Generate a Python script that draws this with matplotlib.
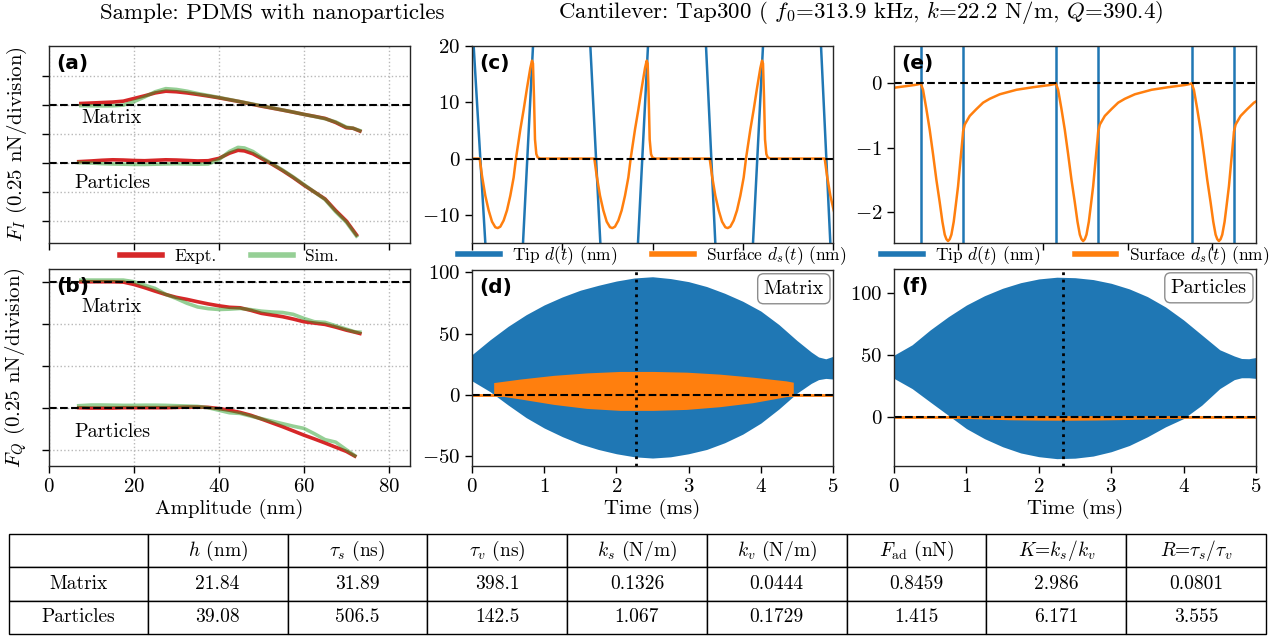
import numpy as np
import matplotlib
matplotlib.use('Agg')
import matplotlib.pyplot as plt
from matplotlib.lines import Line2D

plt.rcParams.update({
    'font.family': 'serif',
    'font.serif': ['cmr10'],
    'mathtext.fontset': 'cm',
    'axes.formatter.use_mathtext': True,
    'font.size': 15,
    'axes.linewidth': 1.0,
})

# ---------------- data ----------------
# (a) F_I vs amplitude (nN, relative to each baseline)
a_m_x = [7.5, 10, 12.5, 15, 17.5, 20, 22.5, 25, 27.5, 30, 32.5, 35, 37.5, 40, 42.5, 45,
         47.5, 50, 52.5, 55, 57.5, 60, 62.5, 65, 67.5, 70, 71.6, 73.2]
a_m_expt = [0.014, 0.018, 0.022, 0.026, 0.034, 0.057, 0.08, 0.105, 0.12, 0.115, 0.105, 0.092,
            0.078, 0.063, 0.046, 0.029, 0.01, -0.009, -0.026, -0.043, -0.061, -0.08, -0.097,
            -0.115, -0.15, -0.195, -0.2, -0.224]
a_m_sim = [-0.005, -0.006, -0.007, -0.006, 0.0, 0.03, 0.07, 0.115, 0.142, 0.135, 0.12, 0.1,
           0.083, 0.066, 0.048, 0.03, 0.012, -0.006, -0.024, -0.042, -0.06, -0.08, -0.098,
           -0.118, -0.145, -0.19, -0.2, -0.22]
a_p_x = [7, 10, 12.5, 15, 17.5, 20, 22.5, 25, 27.5, 30, 32.5, 35, 37.5, 40, 42.5, 44.5, 46,
         48, 50, 52.5, 55, 57.5, 60, 62.5, 65, 67.5, 70, 72.4]
a_p_expt = [0.012, 0.018, 0.024, 0.028, 0.026, 0.022, 0.02, 0.024, 0.028, 0.026, 0.022, 0.018,
            0.02, 0.04, 0.085, 0.11, 0.105, 0.08, 0.04, -0.01, -0.065, -0.125, -0.19, -0.25,
            -0.31, -0.41, -0.5, -0.62]
a_p_sim = [0.004, 0.0, -0.005, -0.008, -0.01, -0.012, -0.012, -0.01, -0.008, -0.006, -0.008,
           -0.01, -0.008, 0.03, 0.1, 0.135, 0.13, 0.1, 0.05, -0.005, -0.06, -0.12, -0.185,
           -0.25, -0.315, -0.42, -0.51, -0.63]

# (b) F_Q vs amplitude
b_m_x = [7.5, 10, 12.5, 15, 17.5, 20, 22.5, 25, 27.5, 30, 32.5, 35, 37.5, 40, 42.5, 45,
         47.5, 50, 52.5, 55, 57.5, 60, 62.5, 65, 67.5, 70, 72, 73.2]
b_m_expt = [0, 0, 0, 0, -0.002, -0.016, -0.035, -0.056, -0.076, -0.093, -0.105, -0.119,
            -0.132, -0.143, -0.152, -0.155, -0.17, -0.188, -0.198, -0.208, -0.222, -0.238,
            -0.246, -0.254, -0.27, -0.288, -0.3, -0.308]
b_m_sim = [0.01, 0.01, 0.01, 0.01, 0.01, 0.0, -0.02, -0.04, -0.075, -0.1, -0.128, -0.15,
           -0.16, -0.165, -0.163, -0.159, -0.166, -0.175, -0.18, -0.183, -0.194, -0.218,
           -0.238, -0.242, -0.262, -0.282, -0.298, -0.30]
b_p_x = [7, 10, 12.5, 15, 17.5, 20, 22.5, 25, 27.5, 30, 32.5, 35, 37.5, 40, 42.5, 45, 47.5,
         50, 52.5, 55, 57.5, 60, 62.5, 65, 67.5, 70, 72]
b_p_expt = [0, -0.002, -0.002, -0.002, 0, 0, 0, 0, 0, 0.002, 0.004, 0.004, 0.002, -0.005,
            -0.015, -0.028, -0.045, -0.067, -0.09, -0.113, -0.138, -0.163, -0.186, -0.21,
            -0.235, -0.26, -0.288]
b_p_sim = [0.012, 0.016, 0.016, 0.015, 0.014, 0.014, 0.015, 0.015, 0.014, 0.012, 0.01, 0.008,
           0.0, -0.015, -0.03, -0.034, -0.05, -0.065, -0.08, -0.095, -0.11, -0.123, -0.155,
           -0.19, -0.205, -0.25, -0.285]

# (c) matrix, zoom in time (us): tip passes and surface cycle
c_tip_t = [0.046, 0.369, np.nan, 1.413, 1.690, np.nan, 3.278, 3.555, np.nan, 4.598, 4.875,
           np.nan, 6.482, 6.740, np.nan, 7.784, 8.061, np.nan, 9.668, 9.926]
c_tip_y = [20, -15, np.nan, -15, 20, np.nan, 20, -15, np.nan, -15, 20, np.nan, 20, -15,
           np.nan, -15, 20, np.nan, 20, -15]
c_contact = [0.212, 3.389, 6.584, 9.770]
c_cycle_dt = [0, 0.065, 0.157, 0.249, 0.342, 0.434, 0.499, 0.572, 0.665, 0.757, 0.849,
              0.942, 1.006, 1.127, 1.219, 1.311, 1.404, 1.450, 1.477, 1.505, 1.533, 1.570,
              1.607, 1.681]
c_cycle_y = [0, -3.06, -6.6, -9.2, -11.2, -12.2, -12.35, -12.1, -11.0, -9.2, -6.6, -3.35, 0,
             5.2, 8.7, 12.5, 16.1, 17.4, 16.9, 11.0, 3.4, 0.8, 0.2, 0]

# (e) particles, zoom in time (us)
e_tip_t = [1.120, 2.119, 4.307, 5.306, 7.510, 8.510]
e_contact = [-2.07, 1.120, 4.307, 7.510]
e_cycle_dt = [0, 0.055, 0.134, 0.212, 0.291, 0.370, 0.449, 0.512, 0.567, 0.606, 0.645, 0.685,
              0.724, 0.779, 0.826, 0.881, 0.937, 0.984, 1.000, 1.039, 1.157, 1.314, 1.472,
              1.629, 1.865, 2.259, 2.652, 3.046, 3.150]
e_cycle_y = [0, -0.10, -0.40, -0.72, -1.10, -1.50, -1.85, -2.15, -2.35, -2.42, -2.45, -2.42,
             -2.35, -2.15, -1.90, -1.60, -1.20, -0.87, -0.75, -0.64, -0.506, -0.40, -0.30,
             -0.24, -0.17, -0.10, -0.06, -0.026, -0.012]

# (d) matrix, full ramp (ms): envelope of the tip oscillation
d_t = [0, 0.25, 0.5, 0.75, 1.0, 1.25, 1.5, 1.75, 2.0, 2.25, 2.5, 2.75, 3.0, 3.25, 3.5, 3.75,
       4.0, 4.25, 4.5, 4.7, 4.8, 4.9, 5.0]
d_upper = [32.9, 45, 56, 65.5, 73.5, 80, 85.5, 89.5, 93, 95.5, 96.5, 95, 92.5, 88.5, 83,
           76.5, 68.5, 57.5, 44.5, 35, 31, 29.5, 31.5]
d_lower = [11.5, 2.7, -8.2, -18.5, -27, -34, -40, -44.5, -48, -50.5, -51.5, -50.5, -48,
           -44.5, -39, -32, -23, -11.5, 1.4, 9.5, 12.5, 13.5, 13]
d_s_t = [0.30, 0.67, 1.13, 1.59, 2.05, 2.51, 2.97, 3.43, 3.89, 4.35, 4.45]
d_s_upper = [10.1, 13, 16, 18, 19.2, 19.2, 18.6, 17, 14.5, 11.5, 10.4]
d_s_lower = [0, -3.3, -7.7, -11, -12.6, -12.6, -11.8, -9.6, -6.3, -1.4, 0]
d_marker = 2.27

# (f) particles, full ramp (ms)
f_t = [0, 0.25, 0.5, 0.75, 1.0, 1.25, 1.5, 1.75, 2.0, 2.25, 2.5, 2.75, 3.0, 3.25, 3.5, 3.75,
       4.0, 4.25, 4.5, 4.7, 4.8, 4.9, 5.0]
f_upper = [49.7, 58, 70, 80.6, 90, 97.5, 103.5, 108, 111, 112.4, 112, 110.5, 107.5, 103,
           96.8, 88.5, 78, 66, 54, 49, 47, 46.8, 47.8]
f_lower = [31, 22.8, 12, 1.3, -9.4, -17.5, -24, -29, -32, -33.6, -33.2, -31.5, -28, -23,
           -16, -8, -1.3, 9.4, 22.8, 30, 31.5, 31.5, 31]
f_s_t = [0.65, 0.8, 1.2, 1.6, 2.0, 2.4, 2.8, 3.2, 3.6, 4.0, 4.1]
f_s_upper = [0, 1.0, 0.3, -0.3, -0.5, -0.5, -0.4, -0.2, 0.3, 1.0, 0]
f_s_lower = [0, -0.8, -1.6, -2.3, -2.6, -2.7, -2.5, -2.1, -1.5, -0.8, 0]
f_marker = 2.34

# table
col_labels = ['', r'$h$ (nm)', r'$\tau_s$ (ns)', r'$\tau_v$ (ns)', r'$k_s$ (N/m)',
              r'$k_v$ (N/m)', r'$F_{\mathrm{ad}}$ (nN)', r'$K$=$k_s/k_v$', r'$R$=$\tau_s/\tau_v$']
row_names = ['Matrix', 'Particles']
matrix_vals = ['21.84', '31.89', '398.1', '0.1326', '0.0444', '0.8459', '2.986', '0.0801']
particle_vals = ['39.08', '506.5', '142.5', '1.067', '0.1729', '1.415', '6.171', '3.555']

# ---------------- figure ----------------
W, H = 1276, 639
fig = plt.figure(figsize=(W / 100, H / 100), dpi=100)


def rect(l, t, r, b):
    return [l / W, 1 - b / H, (r - l) / W, (b - t) / H]


RED = '#d62728'
GREEN = '#2ca02c'
BLUE = '#1f77b4'
ORANGE = '#ff7f0e'


def style(ax):
    ax.tick_params(direction='out', length=5, width=1, labelsize=15)
    for s in ax.spines.values():
        s.set_color('0.15')


def panel_label(ax, s):
    ax.annotate(s, xy=(0, 1), xycoords='axes fraction', xytext=(5, -6),
                textcoords='offset points', ha='left', va='top', fontsize=14.5,
                fontweight='bold', family='DejaVu Sans')


# (a)
ax_a = fig.add_axes(rect(49, 46, 410, 243))
m_off_a = 0.5
ax_a.plot(a_m_x, np.array(a_m_expt) + m_off_a, color=RED, lw=2.6)
ax_a.plot(a_m_x, np.array(a_m_sim) + m_off_a, color=GREEN, alpha=0.5, lw=2.6)
ax_a.plot(a_p_x, a_p_expt, color=RED, lw=2.6)
ax_a.plot(a_p_x, a_p_sim, color=GREEN, alpha=0.5, lw=2.6)
ax_a.axhline(m_off_a, color='k', ls='--', lw=1.5)
ax_a.axhline(0, color='k', ls='--', lw=1.5)
ax_a.set_xlim(0, 85)
ax_a.set_ylim(-0.69, 1.01)
ax_a.set_xticks([0, 20, 40, 60, 80])
ax_a.set_yticks([-0.5, -0.25, 0, 0.25, 0.5, 0.75])
ax_a.set_xticklabels([])
ax_a.set_yticklabels([])
ax_a.grid(True, ls=':', color='0.72', lw=1)
ax_a.set_axisbelow(True)
ax_a.text(14.8, 0.388, 'Matrix', ha='center', va='center', fontsize=14.5)
ax_a.text(15.0, -0.172, 'Particles', ha='center', va='center', fontsize=14.5)
ax_a.set_ylabel(r'$F_I$ (0.25 nN/division)', fontsize=15)
ax_a.yaxis.set_label_coords(-0.055, 0.5)
style(ax_a)
panel_label(ax_a, '(a)')
ax_a.legend([Line2D([], [], color=RED, lw=4), Line2D([], [], color=GREEN, alpha=0.5, lw=4)],
            ['Expt.', 'Sim.'], loc='center', bbox_to_anchor=(0.5, -0.066), ncol=2,
            frameon=False, fontsize=12.5, handlelength=2.4, columnspacing=2.0,
            handletextpad=0.7, borderaxespad=0)

# (b)
ax_b = fig.add_axes(rect(49, 269, 410, 466))
m_off_b = 0.75
ax_b.plot(b_m_x, np.array(b_m_expt) + m_off_b, color=RED, lw=2.6)
ax_b.plot(b_m_x, np.array(b_m_sim) + m_off_b, color=GREEN, alpha=0.5, lw=2.6)
ax_b.plot(b_p_x, b_p_expt, color=RED, lw=2.6)
ax_b.plot(b_p_x, b_p_sim, color=GREEN, alpha=0.5, lw=2.6)
ax_b.axhline(m_off_b, color='k', ls='--', lw=1.5)
ax_b.axhline(0, color='k', ls='--', lw=1.5)
ax_b.set_xlim(0, 85)
ax_b.set_ylim(-0.347, 0.826)
ax_b.set_xticks([0, 20, 40, 60, 80])
ax_b.set_yticks([-0.25, 0, 0.25, 0.5, 0.75])
ax_b.set_yticklabels([])
ax_b.grid(True, ls=':', color='0.72', lw=1)
ax_b.set_axisbelow(True)
ax_b.text(14.8, 0.599, 'Matrix', ha='center', va='center', fontsize=14.5)
ax_b.text(15.0, -0.145, 'Particles', ha='center', va='center', fontsize=14.5)
ax_b.set_ylabel(r'$F_Q$ (0.25 nN/division)', fontsize=15)
ax_b.yaxis.set_label_coords(-0.055, 0.5)
ax_b.set_xlabel('Amplitude (nm)', fontsize=15, labelpad=2)
style(ax_b)
panel_label(ax_b, '(b)')

# (c)
ax_c = fig.add_axes(rect(472, 46, 833, 243))
ax_c.plot(c_tip_t, c_tip_y, color=BLUE, lw=1.8)
cs_t = [0.0]
cs_y = [0.0]
for tc in c_contact:
    cs_t.extend([tc + dt for dt in c_cycle_dt])
    cs_y.extend(c_cycle_y)
ax_c.plot(cs_t, cs_y, color=ORANGE, lw=1.8)
ax_c.axhline(0, color='k', ls='--', lw=1.5)
ax_c.set_xlim(0, 10)
ax_c.set_ylim(-15, 20)
ax_c.set_xticks([0, 2.5, 5, 7.5, 10])
ax_c.set_xticklabels([])
ax_c.set_yticks([-10, 0, 10, 20])
style(ax_c)
panel_label(ax_c, '(c)')
leg_handles = [Line2D([], [], color=BLUE, lw=4), Line2D([], [], color=ORANGE, lw=4)]
leg_labels = [r'Tip $d(t)$ (nm)', r'Surface $d_s(t)$ (nm)']
ax_c.legend(leg_handles, leg_labels, loc='center', bbox_to_anchor=(0.5, -0.066), ncol=2,
            frameon=False, fontsize=12.5, handlelength=2.4, columnspacing=2.0,
            handletextpad=0.7, borderaxespad=0)

# (d)
ax_d = fig.add_axes(rect(472, 270, 833, 466))
ax_d.fill_between(d_t, d_lower, d_upper, color=BLUE, lw=0)
ax_d.axhline(0, color=ORANGE, lw=2)
ax_d.fill_between(d_s_t, d_s_lower, d_s_upper, color=ORANGE, lw=0)
ax_d.axhline(0, color='k', ls='--', lw=1.5)
ax_d.axvline(d_marker, color='k', ls=':', lw=2)
ax_d.set_xlim(0, 5)
ax_d.set_ylim(-58, 102)
ax_d.set_yticks([-50, 0, 50, 100])
ax_d.set_xticks([0, 1, 2, 3, 4, 5])
ax_d.set_xlabel('Time (ms)', fontsize=15, labelpad=2)
ax_d.text(0.975, 0.95, 'Matrix', transform=ax_d.transAxes, ha='right', va='top', fontsize=14.5,
          bbox=dict(boxstyle='round,pad=0.3', fc='white', ec='0.55', lw=1))
style(ax_d)
panel_label(ax_d, '(d)')

# (e)
ax_e = fig.add_axes(rect(894, 46, 1256, 243))
for tt in e_tip_t:
    ax_e.axvline(tt, color=BLUE, lw=1.8)
es_t = []
es_y = []
for tc in e_contact:
    es_t.extend([tc + dt for dt in e_cycle_dt])
    es_y.extend(e_cycle_y)
ax_e.plot(es_t, es_y, color=ORANGE, lw=1.8)
ax_e.axhline(0, color='k', ls='--', lw=1.5)
ax_e.set_xlim(0.49, 9.03)
ax_e.set_ylim(-2.48, 0.58)
ax_e.set_xticks([2, 4, 6, 8])
ax_e.set_xticklabels([])
ax_e.set_yticks([-2, -1, 0])
style(ax_e)
panel_label(ax_e, '(e)')
ax_e.legend(leg_handles, leg_labels, loc='center', bbox_to_anchor=(0.5, -0.066), ncol=2,
            frameon=False, fontsize=12.5, handlelength=2.4, columnspacing=2.0,
            handletextpad=0.7, borderaxespad=0)

# (f)
ax_f = fig.add_axes(rect(894, 269, 1256, 466))
ax_f.fill_between(f_t, f_lower, f_upper, color=BLUE, lw=0)
ax_f.axhline(0, color=ORANGE, lw=2)
ax_f.fill_between(f_s_t, f_s_lower, f_s_upper, color=ORANGE, lw=0)
ax_f.axhline(0, color='k', ls='--', lw=1.5)
ax_f.axvline(f_marker, color='k', ls=':', lw=2)
ax_f.set_xlim(0, 5)
ax_f.set_ylim(-39.5, 119)
ax_f.set_yticks([0, 50, 100])
ax_f.set_xticks([0, 1, 2, 3, 4, 5])
ax_f.set_xlabel('Time (ms)', fontsize=15, labelpad=2)
ax_f.text(0.975, 0.95, 'Particles', transform=ax_f.transAxes, ha='right', va='top',
          fontsize=14.5, bbox=dict(boxstyle='round,pad=0.3', fc='white', ec='0.55', lw=1))
style(ax_f)
panel_label(ax_f, '(f)')

# titles
fig.text(272 / W, 1 - 13 / H, 'Sample: PDMS with nanoparticles', ha='center', va='center',
         fontsize=16.5)
fig.text(861 / W, 1 - 13 / H, r'Cantilever: Tap300 ( $f_0$=313.9 kHz, $k$=22.2 N/m, $Q$=390.4)',
         ha='center', va='center', fontsize=16.5)

# table
ax_t = fig.add_axes(rect(9, 534, 1266, 634))
ax_t.axis('off')
cell_text = [col_labels, [row_names[0]] + matrix_vals, [row_names[1]] + particle_vals]
tbl = ax_t.table(cellText=cell_text, bbox=[0, 0, 1, 1], cellLoc='center',
                 colWidths=[139 / 1257] + [140 / 1257] * 8)
tbl.auto_set_font_size(False)
tbl.set_fontsize(14)
for cell in tbl.get_celld().values():
    cell.set_linewidth(1.0)
    cell.set_edgecolor('black')

fig.savefig('out.png', dpi=100)
